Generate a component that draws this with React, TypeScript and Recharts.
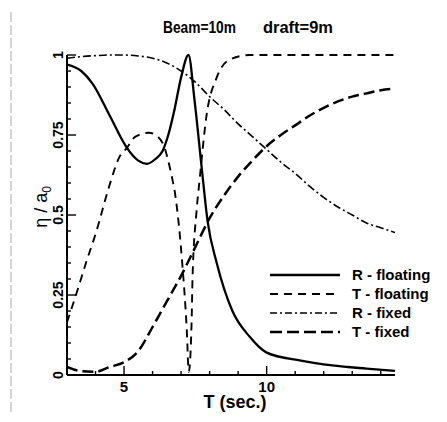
import React from 'react';
import { LineChart, Line, XAxis, YAxis, Legend } from 'recharts';

// ---- data ----
const rFloatT = [3, 3.5, 3.9, 4.5, 5.1, 5.5, 5.8, 6.1, 6.35, 6.55, 6.77, 7.0, 7.26, 7.47, 7.72, 7.93, 8.25, 8.8, 9.4, 10, 11.2, 12.3, 13.5, 14.5];
const rFloatV = [0.97, 0.95, 0.91, 0.81, 0.71, 0.67, 0.66, 0.675, 0.7, 0.75, 0.83, 0.93, 1.0, 0.86, 0.65, 0.48, 0.35, 0.2, 0.12, 0.07, 0.045, 0.03, 0.02, 0.013];

const tFloatT = [3, 3.35, 3.7, 4.0, 4.48, 4.83, 5.1, 5.4, 5.87, 6.1, 6.4, 6.65, 6.8, 7.04, 7.2, 7.27, 7.37, 7.4, 7.54, 7.65, 7.89, 8.25, 8.7, 9.4, 14.5];
const tFloatV = [0.165, 0.26, 0.36, 0.44, 0.59, 0.68, 0.71, 0.745, 0.757, 0.75, 0.715, 0.63, 0.56, 0.35, 0.14, 0.01, 0.17, 0.3, 0.51, 0.61, 0.81, 0.93, 0.985, 1.0, 1.0];

const fixedT = [3, 3.5, 4, 4.5, 5, 5.5, 6, 6.5, 7, 7.5, 8, 8.5, 9, 9.5, 10, 10.5, 11, 11.5, 12, 12.5, 13, 13.5, 14, 14.5];
const rFixedV = [0.99, 0.995, 0.998, 1.0, 1.0, 0.997, 0.99, 0.975, 0.95, 0.915, 0.87, 0.83, 0.785, 0.745, 0.705, 0.665, 0.63, 0.59, 0.555, 0.525, 0.5, 0.475, 0.46, 0.445];
const tFixedV = [0.025, 0.012, 0.01, 0.025, 0.04, 0.075, 0.15, 0.23, 0.31, 0.4, 0.49, 0.56, 0.62, 0.67, 0.715, 0.75, 0.78, 0.81, 0.835, 0.855, 0.87, 0.88, 0.89, 0.895];

const xTicks = [3, 4, 5, 6, 7, 8, 9, 10, 11, 12, 13, 14];
const xMajor = [5, 10];
const xMajorLabels = ['5', '10'];
const yTicks = [0, 0.05, 0.1, 0.15, 0.2, 0.25, 0.3, 0.35, 0.4, 0.45, 0.5, 0.55, 0.6, 0.65, 0.7, 0.75, 0.8, 0.85, 0.9, 0.95, 1];
const yMajor = [0, 0.25, 0.5, 0.75, 1];
const yMajorLabels = ['0', '0.25', '0.5', '0.75', '1'];

const seriesNames = ['R - floating', 'T - floating', 'R - fixed', 'T  - fixed'];

const toData = (ts: number[], vs: number[]) => ts.map((t, i) => ({ t, v: vs[i] }));
const rFloatData = toData(rFloatT, rFloatV);
const tFloatData = toData(tFloatT, tFloatV);
const rFixedData = toData(fixedT, rFixedV);
const tFixedData = toData(fixedT, tFixedV);

const FONT = '"Liberation Sans", Arial, Helvetica, sans-serif';
const W = 431;
const H = 406;

const styles = [
  { dash: undefined as string | undefined, width: 2.3 },
  { dash: '8 6', width: 1.9 },
  { dash: '8 3 2 3', width: 1.6 },
  { dash: '11 5', width: 2.5 },
];
const legendDash = [undefined, '8 6', '7 3 2 3', '12 5'];

const near = (a: number, b: number) => Math.abs(a - b) < 1e-6;

const YTick = (props: any) => {
  const { x, y, payload } = props;
  const v = payload.value as number;
  const idx = yMajor.findIndex((m) => near(m, v));
  const major = idx >= 0;
  return (
    <g>
      <line x1={x} y1={y} x2={x + (major ? 9 : 4)} y2={y} stroke="#000" strokeWidth={1.4} />
      {major && (
        <text
          x={x - 4}
          y={y}
          transform={`rotate(-90 ${x - 4} ${y})`}
          textAnchor="middle"
          fontFamily={FONT}
          fontWeight="bold"
          fontSize={14}
          fill="#000"
        >
          {yMajorLabels[idx]}
        </text>
      )}
    </g>
  );
};

const XTick = (props: any) => {
  const { x, y, payload } = props;
  const v = payload.value as number;
  const idx = xMajor.findIndex((m) => near(m, v));
  const major = idx >= 0;
  return (
    <g>
      <line x1={x} y1={y} x2={x} y2={y - (major ? 9 : 4)} stroke="#000" strokeWidth={1.4} />
      {major && (
        <text x={x} y={y + 17} textAnchor="middle" fontFamily={FONT} fontWeight="bold" fontSize={15} fill="#000">
          {xMajorLabels[idx]}
        </text>
      )}
    </g>
  );
};

const LegendBox = () => (
  <svg width={190} height={90} style={{ overflow: 'visible' }}>
    {seriesNames.map((name, i) => {
      const ly = 12 + i * 19;
      return (
        <g key={name}>
          <line
            x1={12}
            y1={ly}
            x2={82}
            y2={ly}
            stroke="#000"
            strokeWidth={styles[i].width}
            strokeDasharray={legendDash[i]}
          />
          <text x={94} y={ly + 5} fontFamily={FONT} fontWeight="bold" fontSize={15} fill="#000">
            {name}
          </text>
        </g>
      );
    })}
  </svg>
);

export default function App() {
  return (
    <div style={{ position: 'relative', width: W, height: H, background: '#fff' }}>
      <LineChart width={W} height={H} margin={{ top: 47, right: 44, bottom: 9, left: 0 }}>
        <XAxis
          type="number"
          dataKey="t"
          domain={[3, 14.5]}
          ticks={xTicks}
          interval={0}
          tickSize={0}
          tickMargin={0}
          tickLine={false}
          tick={(p: any) => <XTick {...p} />}
          axisLine={{ stroke: '#000', strokeWidth: 2 }}
          height={30}
          allowDataOverflow
        />
        <YAxis
          type="number"
          dataKey="v"
          domain={[0, 1]}
          ticks={yTicks}
          interval={0}
          tickSize={0}
          tickMargin={0}
          tickLine={false}
          tick={(p: any) => <YTick {...p} />}
          axisLine={{ stroke: '#000', strokeWidth: 2 }}
          width={59}
        />
        <Legend
          layout="vertical"
          align="center"
          verticalAlign="middle"
          content={() => <LegendBox />}
          wrapperStyle={{ position: 'absolute', left: 250, top: 255, width: 190, height: 90 }}
        />
        <Line data={tFixedData} dataKey="v" name={seriesNames[3]} type="monotone" stroke="#000" strokeWidth={styles[3].width} strokeDasharray={styles[3].dash} dot={false} activeDot={false} isAnimationActive={false} />
        <Line data={rFixedData} dataKey="v" name={seriesNames[2]} type="monotone" stroke="#000" strokeWidth={styles[2].width} strokeDasharray={styles[2].dash} dot={false} activeDot={false} isAnimationActive={false} />
        <Line data={tFloatData} dataKey="v" name={seriesNames[1]} type="monotone" stroke="#000" strokeWidth={styles[1].width} strokeDasharray={styles[1].dash} dot={false} activeDot={false} isAnimationActive={false} />
        <Line data={rFloatData} dataKey="v" name={seriesNames[0]} type="monotone" stroke="#000" strokeWidth={styles[0].width} dot={false} activeDot={false} isAnimationActive={false} />
      </LineChart>
      <svg
        width={447}
        height={422}
        style={{ position: 'absolute', left: -8, top: -8, pointerEvents: 'none', overflow: 'visible' }}
      >
        {/* scan frame */}
        <line x1={12} y1={5} x2={417} y2={5} stroke="#999" strokeWidth={1} strokeDasharray="14 4 3 4" />
        <line x1={11} y1={12} x2={11} y2={417} stroke="#aaa" strokeWidth={1} strokeDasharray="10 3" />
        <line x1={12} y1={417} x2={300} y2={417} stroke="#999" strokeWidth={1} strokeDasharray="10 4 3 4" />
        {/* title */}
        <text x={163} y={33} textLength={73} lengthAdjust="spacingAndGlyphs" fontFamily={FONT} fontWeight="bold" fontSize={17} fill="#000">
          Beam=10m
        </text>
        <text x={263} y={33} textLength={70} lengthAdjust="spacingAndGlyphs" fontFamily={FONT} fontWeight="bold" fontSize={17} fill="#000">
          draft=9m
        </text>
        {/* x axis title */}
        <text x={235} y={408} textAnchor="middle" fontFamily={FONT} fontWeight="bold" fontSize={18} fill="#000">
          T (sec.)
        </text>
        {/* y axis title */}
        <text x={47} y={207} transform="rotate(-90 47 207)" textAnchor="middle" fontFamily={FONT} fontSize={18} fill="#000">
          η / a<tspan fontSize={12} dy={4}>0</tspan>
        </text>
      </svg>
    </div>
  );
}
